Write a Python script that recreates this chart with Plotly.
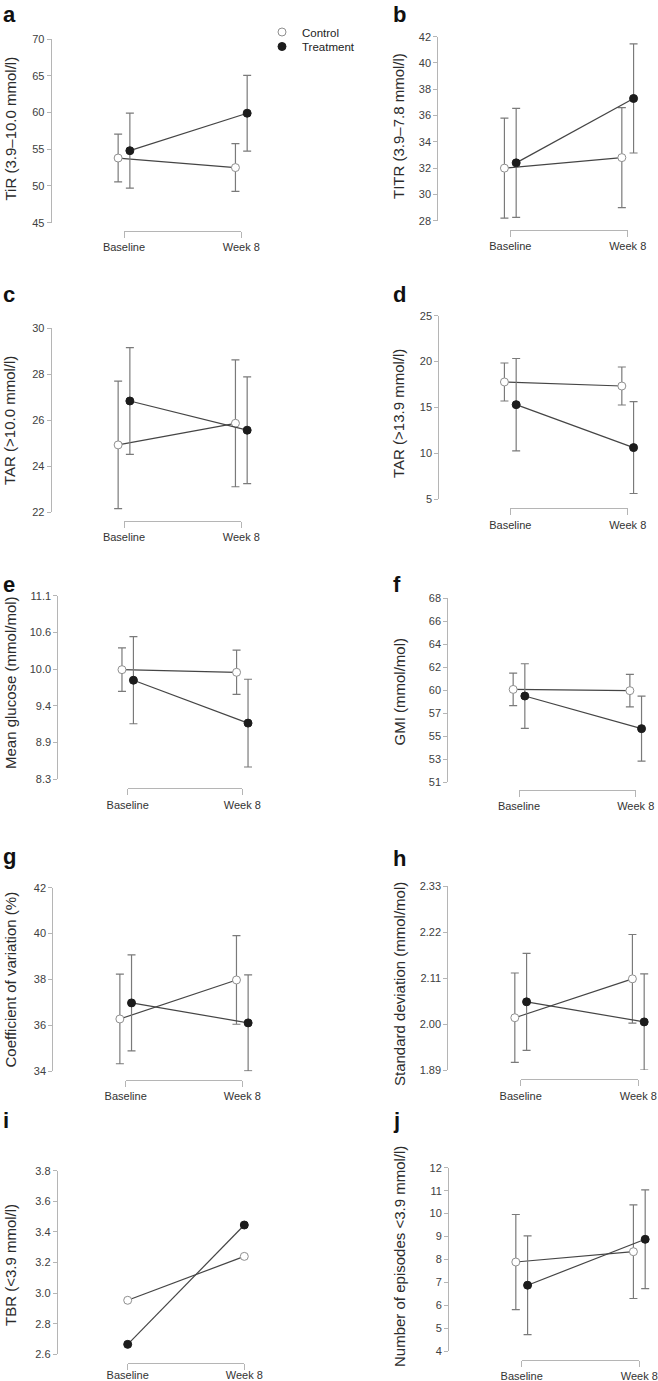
import plotly.graph_objects as go

# ---------------- data ----------------
categories = ["Baseline", "Week 8"]
groups = ["Control", "Treatment"]

tir_control = [53.8, 52.5]
tir_control_err = [3.25, 3.25]
tir_treatment = [54.8, 59.9]
tir_treatment_err = [5.1, 5.15]

titr_control = [32.0, 32.8]
titr_control_err = [3.8, 3.8]
titr_treatment = [32.4, 37.3]
titr_treatment_err = [4.15, 4.15]

tar10_control = [24.93, 25.87]
tar10_control_err = [2.77, 2.76]
tar10_treatment = [26.84, 25.57]
tar10_treatment_err = [2.32, 2.32]

tar139_control = [17.78, 17.34]
tar139_control_err = [2.07, 2.07]
tar139_treatment = [15.31, 10.63]
tar139_treatment_err = [5.03, 5.0]

mg_control = [9.99, 9.95]
mg_control_err = [0.33, 0.335]
mg_treatment = [9.83, 9.18]
mg_treatment_err = [0.66, 0.665]

gmi_control = [59.65, 59.53]
gmi_control_err = [1.55, 1.55]
gmi_treatment = [59.02, 55.92]
gmi_treatment_err = [3.07, 3.09]

cv_control = [36.28, 37.98]
cv_control_err = [1.95, 1.93]
cv_treatment = [36.98, 36.11]
cv_treatment_err = [2.09, 2.09]

sd_control = [2.015, 2.108]
sd_control_err = [0.107, 0.106]
sd_treatment = [2.053, 2.005]
sd_treatment_err = [0.116, 0.115]

tbr_control = [2.953, 3.24]
tbr_treatment = [2.665, 3.445]

ep_control = [7.89, 8.34]
ep_control_err = [2.07, 2.04]
ep_treatment = [6.88, 8.88]
ep_treatment_err = [2.15, 2.15]

# tick values / labels
tir_ticks = [45, 50, 55, 60, 65, 70]
tir_ticktext = ["45", "50", "55", "60", "65", "70"]
titr_ticks = [28, 30, 32, 34, 36, 38, 40, 42]
titr_ticktext = ["28", "30", "32", "34", "36", "38", "40", "42"]
tar10_ticks = [22, 24, 26, 28, 30]
tar10_ticktext = ["22", "24", "26", "28", "30"]
tar139_ticks = [5, 10, 15, 20, 25]
tar139_ticktext = ["5", "10", "15", "20", "25"]
mg_ticks = [8.333, 8.889, 9.444, 10.0, 10.556, 11.111]
mg_ticktext = ["8.3", "8.9", "9.4", "10.0", "10.6", "11.1"]
gmi_ticks = [50.82, 53.01, 55.19, 57.38, 59.56, 61.75, 63.94, 66.12, 68.31]
gmi_ticktext = ["51", "53", "55", "57", "60", "62", "64", "66", "68"]
cv_ticks = [34, 36, 38, 40, 42]
cv_ticktext = ["34", "36", "38", "40", "42"]
sd_ticks = [1.89, 2.00, 2.11, 2.22, 2.33]
sd_ticktext = ["1.89", "2.00", "2.11", "2.22", "2.33"]
tbr_ticks = [2.6, 2.8, 3.0, 3.2, 3.4, 3.6, 3.8]
tbr_ticktext = ["2.6", "2.8", "3.0", "3.2", "3.4", "3.6", "3.8"]
ep_ticks = [4, 5, 6, 7, 8, 9, 10, 11, 12]
ep_ticktext = ["4", "5", "6", "7", "8", "9", "10", "11", "12"]

panels = [
    dict(letter="a", title="TiR (3.9–10.0 mmol/l)", c=tir_control, ce=tir_control_err,
         t=tir_treatment, te=tir_treatment_err, tv=tir_ticks, tt=tir_ticktext),
    dict(letter="b", title="TITR (3.9–7.8 mmol/l)", c=titr_control, ce=titr_control_err,
         t=titr_treatment, te=titr_treatment_err, tv=titr_ticks, tt=titr_ticktext),
    dict(letter="c", title="TAR (>10.0 mmol/l)", c=tar10_control, ce=tar10_control_err,
         t=tar10_treatment, te=tar10_treatment_err, tv=tar10_ticks, tt=tar10_ticktext),
    dict(letter="d", title="TAR (>13.9 mmol/l)", c=tar139_control, ce=tar139_control_err,
         t=tar139_treatment, te=tar139_treatment_err, tv=tar139_ticks, tt=tar139_ticktext),
    dict(letter="e", title="Mean glucose (mmol/mol)", c=mg_control, ce=mg_control_err,
         t=mg_treatment, te=mg_treatment_err, tv=mg_ticks, tt=mg_ticktext),
    dict(letter="f", title="GMI (mmol/mol)", c=gmi_control, ce=gmi_control_err,
         t=gmi_treatment, te=gmi_treatment_err, tv=gmi_ticks, tt=gmi_ticktext),
    dict(letter="g", title="Coefficient of variation (%)", c=cv_control, ce=cv_control_err,
         t=cv_treatment, te=cv_treatment_err, tv=cv_ticks, tt=cv_ticktext),
    dict(letter="h", title="Standard deviation (mmol/mol)", c=sd_control, ce=sd_control_err,
         t=sd_treatment, te=sd_treatment_err, tv=sd_ticks, tt=sd_ticktext),
    dict(letter="i", title="TBR (<3.9 mmol/l)", c=tbr_control, ce=None,
         t=tbr_treatment, te=None, tv=tbr_ticks, tt=tbr_ticktext),
    dict(letter="j", title="Number of episodes <3.9 mmol/l)", c=ep_control, ce=ep_control_err,
         t=ep_treatment, te=ep_treatment_err, tv=ep_ticks, tt=ep_ticktext),
]

# ---------------- layout geometry (pixels) ----------------
W, H = 658, 1381
# yaxis x, category0 x, category1 x, plot top, plot bottom, x-axis line y,
# title center y, letter baseline y, category label standoff
geom = [
    (51.7, 124.0, 241.3, 39.0, 222.7, 230.7, 128.5, 22, 0),
    (438.3, 510.3, 627.7, 36.7, 220.7, 230.0, 126.0, 22, 0),
    (51.7, 124.0, 241.3, 328.3, 512.3, 520.7, 421.0, 302, 0),
    (439.3, 510.3, 627.7, 315.7, 499.3, 508.3, 414.0, 302, 0),
    (58.3, 127.7, 242.3, 595.7, 779.0, 788.3, 683.0, 592, 0),
    (448.3, 519.0, 635.7, 598.3, 782.3, 790.0, 691.5, 592, 0),
    (53.3, 125.7, 242.3, 887.7, 1071.3, 1080.0, 979.5, 864, 0),
    (448.3, 520.7, 638.3, 886.0, 1070.0, 1079.3, 984.0, 866, 0),
    (57.7, 127.7, 244.3, 1170.7, 1354.3, 1363.3, 1265.0, 1128, -5),
    (449.0, 521.7, 639.3, 1167.7, 1351.3, 1360.0, 1257.0, 1128, 0),
]

FONT = "Liberation Sans, Arial, Helvetica, sans-serif"
AXIS_COLOR = "#b5b5b5"
ERR_COLOR = "#7a7a7a"
LINE_COLOR = "#454545"
CTRL_EDGE = "#8f8f8f"
TRT_FILL = "#1c1c1c"
DODGE = 0.05


def fx(px):
    return px / W


def fy(py):
    return 1 - py / H


fig = go.Figure()
layout = {}
annotations = []

for k, (p, g) in enumerate(zip(panels, geom)):
    yax_x, c0, c1, top, bot, xl_y, title_y, letter_y, lab_off = g
    left_col = (k % 2 == 0)
    dx_id = 2 * k + 1
    lx_id = 2 * k + 2
    y_id = k + 1
    dx = "x" if dx_id == 1 else f"x{dx_id}"
    lx = f"x{lx_id}"
    yy = "y" if y_id == 1 else f"y{y_id}"

    s = c1 - c0
    R = c1 + 26 if left_col else min(c1 + 18, W)
    dodge = 0 if p["ce"] is None else DODGE
    xs = list(range(len(categories)))

    # control
    fig.add_trace(go.Scatter(
        x=[i - dodge for i in xs], y=p["c"], xaxis=dx, yaxis=yy,
        mode="lines+markers", name=groups[0], showlegend=False,
        line=dict(color=LINE_COLOR, width=1.2),
        marker=dict(size=8, color="white", line=dict(color=CTRL_EDGE, width=1)),
        error_y=None if p["ce"] is None else dict(type="data", array=p["ce"], visible=True,
                                                   color=ERR_COLOR, thickness=1.2, width=4),
        cliponaxis=False, hoverinfo="x+y",
    ))
    # treatment
    fig.add_trace(go.Scatter(
        x=[i + dodge for i in xs], y=p["t"], xaxis=dx, yaxis=yy,
        mode="lines+markers", name=groups[1], showlegend=False,
        line=dict(color=LINE_COLOR, width=1.2),
        marker=dict(size=8, color=TRT_FILL, line=dict(color=TRT_FILL, width=1)),
        error_y=None if p["te"] is None else dict(type="data", array=p["te"], visible=True,
                                                   color=ERR_COLOR, thickness=1.2, width=4),
        cliponaxis=False, hoverinfo="x+y",
    ))
    # dummy trace so the category axis is drawn
    fig.add_trace(go.Scatter(x=xs, y=[None] * len(xs), xaxis=lx, yaxis=yy,
                             mode="markers", showlegend=False, hoverinfo="skip"))

    layout["xaxis" if dx_id == 1 else f"xaxis{dx_id}"] = dict(
        domain=[fx(yax_x), fx(R)], range=[(yax_x - c0) / s, (R - c0) / s],
        anchor=yy, visible=False, fixedrange=True, automargin=False,
    )
    layout[f"xaxis{lx_id}"] = dict(
        domain=[fx(c0), fx(c1)], range=[0, len(categories) - 1], anchor="free",
        position=fy(xl_y), showline=True, linecolor=AXIS_COLOR, linewidth=1,
        ticks="outside", ticklen=6, tickcolor=AXIS_COLOR, tickwidth=1,
        tickvals=xs, ticktext=categories, showgrid=False, zeroline=False,
        tickfont=dict(family=FONT, size=11, color="#333333"), fixedrange=True,
        automargin=False, ticklabelstandoff=lab_off,
    )
    layout["yaxis" if y_id == 1 else f"yaxis{y_id}"] = dict(
        domain=[fy(bot), fy(top)], range=[p["tv"][0], p["tv"][-1]], anchor=dx,
        showline=True, linecolor=AXIS_COLOR, linewidth=1, ticks="outside", ticklen=4,
        tickcolor=AXIS_COLOR, tickwidth=1, tickvals=p["tv"], ticktext=p["tt"],
        showgrid=False, zeroline=False, automargin=False,
        tickfont=dict(family=FONT, size=11, color="#404040"), fixedrange=True,
    )
    # y axis title
    annotations.append(dict(
        text=p["title"], x=fx(10 if left_col else 399), y=fy(title_y),
        xref="paper", yref="paper", xanchor="center", yanchor="middle",
        textangle=-90, showarrow=False,
        font=dict(family=FONT, size=15, color="#2b2b2b"),
    ))
    # panel letter
    annotations.append(dict(
        text=f"<b>{p['letter']}</b>", x=fx(1 if left_col else 391), y=fy(letter_y - 7.5),
        xref="paper", yref="paper", xanchor="left", yanchor="middle",
        showarrow=False, font=dict(family=FONT, size=22, color="#111111"),
    ))

# legend entries
fig.add_trace(go.Scatter(x=[None], y=[None], mode="markers", name=groups[0],
                         marker=dict(size=8, color="white", line=dict(color=CTRL_EDGE, width=1)),
                         showlegend=True, legend="legend"))
fig.add_trace(go.Scatter(x=[None], y=[None], mode="markers", name=groups[1],
                         marker=dict(size=8, color=TRT_FILL, line=dict(color=TRT_FILL, width=1)),
                         showlegend=True, legend="legend2"))

legend_font = dict(family=FONT, size=11.5, color="#222222")
fig.update_layout(
    template="none",
    width=W, height=H, margin=dict(l=0, r=0, t=0, b=0, autoexpand=False),
    paper_bgcolor="white", plot_bgcolor="rgba(0,0,0,0)",
    showlegend=True,
    legend=dict(x=fx(262), y=fy(32), xanchor="left", yanchor="middle",
                font=legend_font, bgcolor="rgba(0,0,0,0)", itemwidth=30, borderwidth=0),
    legend2=dict(x=fx(262), y=fy(46.5), xanchor="left", yanchor="middle",
                 font=legend_font, bgcolor="rgba(0,0,0,0)", itemwidth=30, borderwidth=0),
    annotations=annotations,
    **layout,
)

fig.write_html("out.html")
